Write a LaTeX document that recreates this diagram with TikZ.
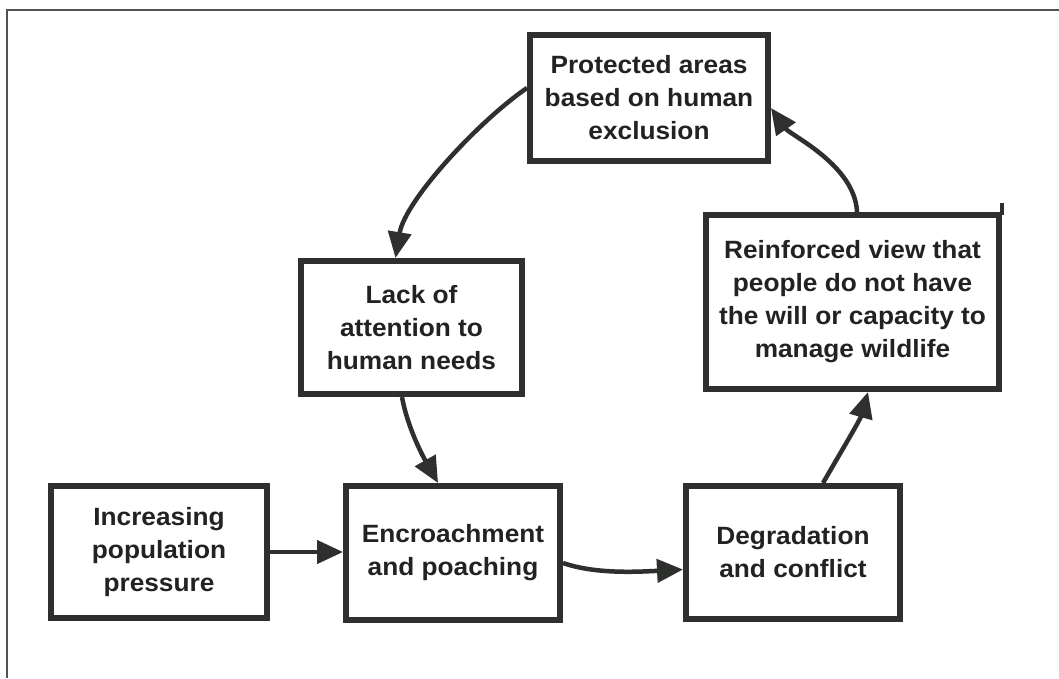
\documentclass[tikz,border=0pt]{standalone}
\usepackage{fontspec}
\setmainfont{Liberation Sans}[FakeStretch=1.05]
\usetikzlibrary{arrows.meta}
\definecolor{ink}{RGB}{45,48,45}
\definecolor{txt}{RGB}{32,35,32}
\definecolor{framec}{RGB}{80,83,80}
\tikzset{
  box/.style={draw=ink, line width=6pt, fill=white, align=center, text=txt,
    font=\fontsize{25}{33}\selectfont\bfseries, inner sep=0pt},
  arr/.style={draw=ink, line width=4.5pt, -{Triangle[length=26pt,width=23pt]}},
  framel/.style={draw=framec, line width=2.5pt}
}
\begin{document}
\begin{tikzpicture}[x=1pt,y=-1pt]
\useasboundingbox (0,0) rectangle (1059,678);
\fill[white] (0,0) rectangle (1059,678);
\draw[framel] (7,678) -- (7,10) -- (1059,10);

\node[box, minimum width=238pt, minimum height=126pt] (prot) at (649,98)
  {Protected areas\\based on human\\exclusion};
\node[box, minimum width=221pt, minimum height=133pt] (lack) at (411.5,327.5)
  {Lack of\\attention to\\human needs};
\node[box, minimum width=293pt, minimum height=174pt] (reinf) at (852.5,302)
  {Reinforced view that\\people do not have\\the will or capacity to\\manage wildlife};
\node[box, minimum width=216pt, minimum height=132pt] (incr) at (159,552)
  {Increasing\\population\\pressure};
\node[box, minimum width=214pt, minimum height=134pt] (encr) at (453,553)
  {Encroachment\\and poaching};
\node[box, minimum width=214pt, minimum height=133pt] (degr) at (793,552.5)
  {Degradation\\and conflict};
\draw[draw=ink, line width=4pt] ([yshift=-3pt]reinf.north east) -- ++(0,-12);

\draw[arr] ([yshift=10pt]prot.west) .. controls (480,120) and (405,200) .. ([xshift=-16pt]lack.north);
\draw[arr] ([xshift=-9.5pt]lack.south) .. controls (408,430) and (425,460) .. ([xshift=-15pt]encr.north);
\draw[arr] (incr.east) -- (incr.east -| encr.west);
\draw[arr] ([yshift=-10pt]encr.east) .. controls (595,574) and (635,572) .. ([yshift=-17pt]degr.west);
\draw[arr] ([xshift=30pt]degr.north) .. controls (842,450) and (860,420) .. ([xshift=15.5pt]reinf.south);
\draw[arr] ([xshift=4.5pt]reinf.north) .. controls (855,165) and (790,135) .. ([yshift=-10pt]prot.east);
\end{tikzpicture}
\end{document}
